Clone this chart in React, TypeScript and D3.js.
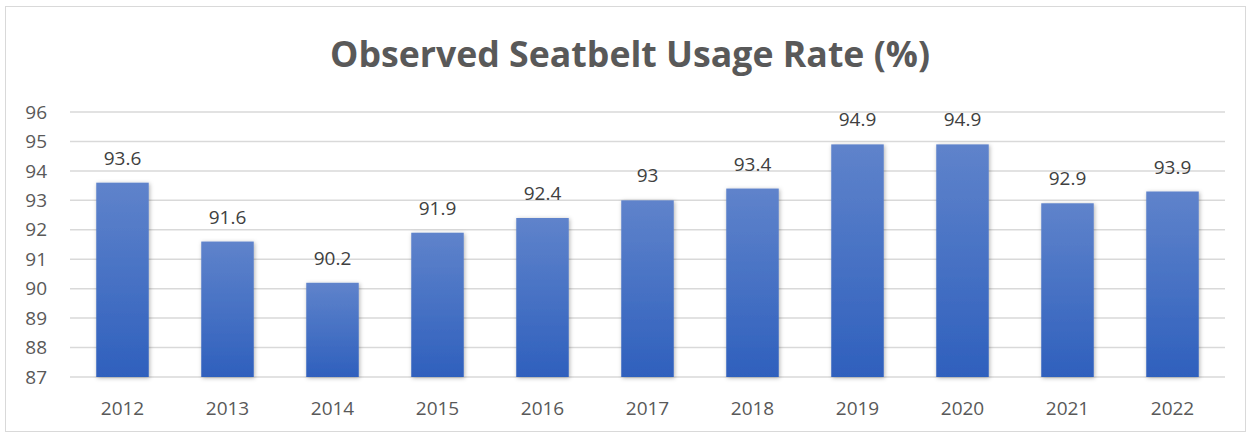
import React, { useRef, useEffect } from 'react';
import * as d3 from 'd3';

// chart data
const years = ['2012', '2013', '2014', '2015', '2016', '2017', '2018', '2019', '2020', '2021', '2022'];
// bar heights as drawn in the picture
const rates = [93.6, 91.6, 90.2, 91.9, 92.4, 93, 93.4, 94.9, 94.9, 92.9, 93.3];
// data labels as printed above the bars
const rateLabels = ['93.6', '91.6', '90.2', '91.9', '92.4', '93', '93.4', '94.9', '94.9', '92.9', '93.9'];
const yTicks = [87, 88, 89, 90, 91, 92, 93, 94, 95, 96];
const title = 'Observed Seatbelt Usage Rate (%)';

const App = () => {
  const svgRef = useRef<SVGSVGElement>(null);

  useEffect(() => {
    const width = 1251;
    const height = 437;
    const margin = { top: 112, right: 26, bottom: 60, left: 70 };
    const font = 'Open Sans, sans-serif';

    d3.select(svgRef.current).selectAll('*').remove();

    const svg = d3.select(svgRef.current)
      .attr('width', width)
      .attr('height', height);

    const defs = svg.append('defs');
    const grad = defs.append('linearGradient')
      .attr('id', 'barGrad')
      .attr('x1', 0).attr('y1', 0).attr('x2', 0).attr('y2', 1);
    grad.append('stop').attr('offset', '0%').attr('stop-color', '#5f83cb');
    grad.append('stop').attr('offset', '100%').attr('stop-color', '#2f60bd');

    const shadow = defs.append('filter')
      .attr('id', 'barShadow')
      .attr('x', '-30%').attr('y', '-10%').attr('width', '160%').attr('height', '120%');
    shadow.append('feDropShadow')
      .attr('dx', 1).attr('dy', 1).attr('stdDeviation', 2)
      .attr('flood-color', '#000').attr('flood-opacity', 0.3);

    // outer frame
    svg.append('rect')
      .attr('x', 5.5).attr('y', 6.5)
      .attr('width', width - 11).attr('height', height - 12)
      .attr('fill', '#fff')
      .attr('stroke', '#d9d9d9');

    // title
    svg.append('text')
      .attr('x', 630)
      .attr('y', 67)
      .attr('text-anchor', 'middle')
      .attr('font-family', font)
      .attr('font-weight', 700)
      .attr('font-size', 35)
      .attr('fill', '#595959')
      .attr('textLength', 600)
      .attr('lengthAdjust', 'spacingAndGlyphs')
      .text(title);

    const x = d3.scaleBand()
      .domain(years)
      .range([margin.left, width - margin.right])
      .paddingInner(0.5)
      .paddingOuter(0.25);

    const y = d3.scaleLinear()
      .domain([87, 96])
      .range([height - margin.bottom, margin.top]);

    // gridlines
    svg.append('g')
      .selectAll('line')
      .data(yTicks)
      .enter().append('line')
      .attr('x1', margin.left)
      .attr('x2', width - margin.right)
      .attr('y1', d => y(d))
      .attr('y2', d => y(d))
      .attr('stroke', '#d9d9d9')
      .attr('stroke-width', 1.5);

    // y axis labels
    svg.append('g')
      .selectAll('text')
      .data(yTicks)
      .enter().append('text')
      .attr('x', 47)
      .attr('y', d => y(d))
      .attr('dy', '0.35em')
      .attr('text-anchor', 'end')
      .attr('font-family', font)
      .attr('font-size', 19)
      .attr('fill', '#595959')
      .text(d => d);

    // bars
    svg.append('g')
      .selectAll('rect')
      .data(rates)
      .enter().append('rect')
      .attr('x', (d, i) => x(years[i])!)
      .attr('y', d => y(d))
      .attr('width', x.bandwidth())
      .attr('height', d => y(87) - y(d))
      .attr('fill', 'url(#barGrad)')
      .attr('filter', 'url(#barShadow)');

    // data labels
    svg.append('g')
      .selectAll('text')
      .data(rates)
      .enter().append('text')
      .attr('x', (d, i) => x(years[i])! + x.bandwidth() / 2)
      .attr('y', d => y(d) - 18)
      .attr('text-anchor', 'middle')
      .attr('font-family', font)
      .attr('font-size', 19)
      .attr('fill', '#404040')
      .text((d, i) => rateLabels[i]);

    // x axis labels
    svg.append('g')
      .selectAll('text')
      .data(years)
      .enter().append('text')
      .attr('x', d => x(d)! + x.bandwidth() / 2)
      .attr('y', 408)
      .attr('dy', '0.35em')
      .attr('text-anchor', 'middle')
      .attr('font-family', font)
      .attr('font-size', 19)
      .attr('fill', '#595959')
      .text(d => d);
  }, []);

  return (
    <svg ref={svgRef} style={{ position: 'absolute', left: 0, top: 0 }}></svg>
  );
};

export default App;
